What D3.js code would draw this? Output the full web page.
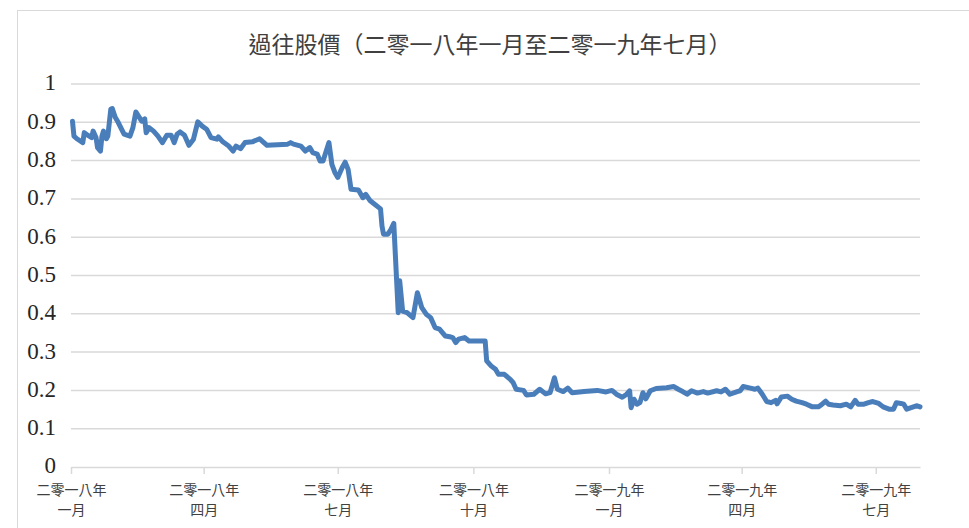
<!DOCTYPE html>
<html lang="zh-Hant">
<head>
  <meta charset="UTF-8">
  <title>過往股價</title>
  <style>
    body { margin: 0; background: #fff; }
    svg { display: block; }
    .grid line { stroke: #d9d9d9; stroke-width: 1.5; }
    .x-axis path, .x-axis line { stroke: #d9d9d9; stroke-width: 1.5; }
    .y-label { font-family: "Liberation Serif", "DejaVu Serif", serif; font-size: 23px; fill: #262626; }
    .x-label { font-family: "Noto Sans CJK TC", sans-serif; font-size: 14px; fill: #404040; }
    .title { font-family: "Noto Sans CJK TC", sans-serif; font-size: 23px; fill: #404040; }
    .price { fill: none; stroke: #4a7ebb; stroke-width: 5; stroke-linejoin: round; stroke-linecap: round; }
  </style>
</head>
<body>
  <svg width="969" height="528"></svg>
  <script src="https://cdn.jsdelivr.net/npm/d3@7/dist/d3.min.js"></script>
  <script>
    var title = '過往股價（二零一八年一月至二零一九年七月）'

    var yTicks = [0, 0.1, 0.2, 0.3, 0.4, 0.5, 0.6, 0.7, 0.8, 0.9, 1]

    var tickDates = ['2018-01-01', '2018-04-01', '2018-07-01', '2018-10-01', '2019-01-01', '2019-04-01', '2019-07-01']
    var tickYears = ['二零一八年', '二零一八年', '二零一八年', '二零一八年', '二零一九年', '二零一九年', '二零一九年']
    var tickMonths = ['一月', '四月', '七月', '十月', '一月', '四月', '七月']

    var dates = [
      '2018-01-02', '2018-01-03', '2018-01-05', '2018-01-09', '2018-01-10', '2018-01-12', '2018-01-15', '2018-01-16', '2018-01-18',
      '2018-01-19', '2018-01-21', '2018-01-22', '2018-01-23', '2018-01-25', '2018-01-26', '2018-01-28', '2018-01-29', '2018-01-31',
      '2018-02-02', '2018-02-06', '2018-02-10', '2018-02-12', '2018-02-14', '2018-02-16', '2018-02-18', '2018-02-20', '2018-02-21',
      '2018-02-23', '2018-02-26',
      '2018-03-01', '2018-03-04', '2018-03-07', '2018-03-10', '2018-03-12', '2018-03-14', '2018-03-16', '2018-03-19', '2018-03-22',
      '2018-03-25', '2018-03-28', '2018-03-31',
      '2018-04-03', '2018-04-06', '2018-04-10', '2018-04-11', '2018-04-14', '2018-04-18', '2018-04-21', '2018-04-23', '2018-04-26',
      '2018-04-29',
      '2018-05-04', '2018-05-09', '2018-05-14', '2018-05-28', '2018-05-30',
      '2018-06-01', '2018-06-06', '2018-06-09', '2018-06-12', '2018-06-14', '2018-06-17', '2018-06-19', '2018-06-21', '2018-06-25',
      '2018-06-27', '2018-06-29',
      '2018-07-01', '2018-07-04', '2018-07-06', '2018-07-08', '2018-07-10', '2018-07-15', '2018-07-18', '2018-07-20', '2018-07-23',
      '2018-07-26', '2018-07-30', '2018-07-31',
      '2018-08-01', '2018-08-04', '2018-08-06', '2018-08-08', '2018-08-11', '2018-08-12', '2018-08-14', '2018-08-17', '2018-08-21',
      '2018-08-24', '2018-08-27', '2018-08-30',
      '2018-09-02', '2018-09-05', '2018-09-08', '2018-09-12', '2018-09-15', '2018-09-17', '2018-09-19', '2018-09-21', '2018-09-25',
      '2018-09-28',
      '2018-10-09', '2018-10-10', '2018-10-13', '2018-10-16', '2018-10-18', '2018-10-22', '2018-10-26', '2018-10-28', '2018-10-30',
      '2018-11-04', '2018-11-06', '2018-11-11', '2018-11-15', '2018-11-19', '2018-11-22', '2018-11-25', '2018-11-27',
      '2018-12-01', '2018-12-04', '2018-12-07', '2018-12-12', '2018-12-15', '2018-12-24', '2018-12-30',
      '2019-01-03', '2019-01-06', '2019-01-10', '2019-01-13', '2019-01-15', '2019-01-16', '2019-01-18', '2019-01-20', '2019-01-22',
      '2019-01-24', '2019-01-26', '2019-01-29',
      '2019-02-02', '2019-02-09', '2019-02-14', '2019-02-17', '2019-02-20', '2019-02-23', '2019-02-26',
      '2019-03-02', '2019-03-06', '2019-03-09', '2019-03-15', '2019-03-18', '2019-03-21', '2019-03-24', '2019-03-29', '2019-03-31',
      '2019-04-02', '2019-04-07', '2019-04-10', '2019-04-12', '2019-04-15', '2019-04-18', '2019-04-21', '2019-04-24', '2019-04-25',
      '2019-04-28',
      '2019-05-02', '2019-05-05', '2019-05-08', '2019-05-12', '2019-05-15', '2019-05-19', '2019-05-23', '2019-05-25', '2019-05-28',
      '2019-05-30',
      '2019-06-02', '2019-06-07', '2019-06-11', '2019-06-14', '2019-06-17', '2019-06-19', '2019-06-23', '2019-06-26', '2019-06-29',
      '2019-07-03', '2019-07-06', '2019-07-10', '2019-07-13', '2019-07-15', '2019-07-18', '2019-07-20', '2019-07-22', '2019-07-25',
      '2019-07-29', '2019-07-31'
    ]

    var prices = [
      0.903, 0.864, 0.857, 0.847, 0.873, 0.867, 0.860, 0.877, 0.860,
      0.834, 0.825, 0.864, 0.877, 0.857, 0.864, 0.934, 0.936, 0.913,
      0.900, 0.869, 0.864, 0.886, 0.927, 0.915, 0.903, 0.909, 0.873,
      0.886, 0.877,
      0.864, 0.847, 0.866, 0.866, 0.847, 0.869, 0.875, 0.866, 0.840,
      0.855, 0.901, 0.890,
      0.882, 0.860, 0.856, 0.862, 0.849, 0.838, 0.825, 0.838, 0.831,
      0.847,
      0.849, 0.857, 0.840, 0.843, 0.847,
      0.843, 0.838, 0.825, 0.834, 0.821, 0.817, 0.799, 0.799, 0.847,
      0.790, 0.769,
      0.756, 0.782, 0.796, 0.777, 0.725, 0.723, 0.703, 0.712, 0.695,
      0.686, 0.674, 0.629,
      0.608, 0.608, 0.620, 0.636, 0.403, 0.486, 0.407, 0.403, 0.390,
      0.455, 0.416, 0.399,
      0.390, 0.364, 0.360, 0.342, 0.340, 0.338, 0.325, 0.334, 0.338,
      0.329,
      0.329, 0.277, 0.264, 0.255, 0.242, 0.242, 0.229, 0.220, 0.203,
      0.200, 0.188, 0.190, 0.203, 0.191, 0.194, 0.233, 0.203,
      0.197, 0.206, 0.194, 0.196, 0.197, 0.200, 0.196,
      0.200, 0.190, 0.182, 0.190, 0.199, 0.155, 0.177, 0.164, 0.168,
      0.194, 0.178, 0.199,
      0.205, 0.207, 0.210, 0.203, 0.197, 0.190, 0.199,
      0.193, 0.197, 0.193, 0.199, 0.196, 0.203, 0.190, 0.197, 0.199,
      0.210, 0.206, 0.203, 0.206, 0.190, 0.171, 0.168, 0.174, 0.165,
      0.183,
      0.185, 0.177, 0.172, 0.168, 0.164, 0.157, 0.157, 0.162, 0.172,
      0.164,
      0.162, 0.160, 0.164, 0.157, 0.174, 0.164, 0.164, 0.168, 0.171,
      0.166, 0.157, 0.151, 0.151, 0.168, 0.166, 0.164, 0.151, 0.155,
      0.160, 0.157
    ]

    var svg = d3.select('svg')
    var margin = { top: 84, left: 71, right: 49, bottom: 61 }
    var width = +svg.attr('width') - margin.left - margin.right
    var height = +svg.attr('height') - margin.top - margin.bottom

    var parse = d3.timeParse('%Y-%m-%d')
    var data = dates.map(function(d, i) {
      return { date: parse(d), value: prices[i] }
    })

    // chart frame, cut off on the right and bottom like the source
    svg.append('rect')
      .attr('x', 17.5)
      .attr('y', 10.5)
      .attr('width', 1000)
      .attr('height', 600)
      .attr('fill', 'none')
      .attr('stroke', '#d9d9d9')

    svg.append('text')
      .attr('class', 'title')
      .attr('x', 490)
      .attr('y', 53)
      .attr('text-anchor', 'middle')
      .text(title)

    var xScale = d3.scaleTime()
      .domain([parse('2018-01-01'), parse('2019-07-31')])
      .range([0, width])
    var yScale = d3.scaleLinear().domain([0, 1]).range([height, 0])

    var g = svg.append('g')
      .attr('transform', 'translate(' + margin.left + ',' + margin.top + ')')

    g.append('g')
      .attr('class', 'grid')
      .selectAll('line')
      .data(yTicks.filter(function(d) { return d > 0 }))
      .enter()
      .append('line')
      .attr('x1', 0)
      .attr('x2', width)
      .attr('y1', function(d) { return yScale(d) })
      .attr('y2', function(d) { return yScale(d) })

    g.selectAll('.y-label')
      .data(yTicks)
      .enter()
      .append('text')
      .attr('class', 'y-label')
      .attr('x', -15)
      .attr('y', function(d) { return yScale(d) })
      .attr('dy', '0.28em')
      .attr('text-anchor', 'end')
      .text(function(d) { return d3.format('')(+d.toFixed(1)) })

    var xAxis = g.append('g')
      .attr('class', 'x-axis')
      .attr('transform', 'translate(0,' + height + ')')
      .call(d3.axisBottom(xScale)
        .tickValues(tickDates.map(parse))
        .tickSizeInner(7)
        .tickSizeOuter(0)
        .tickFormat(''))

    xAxis.selectAll('.tick text').remove()
    xAxis.selectAll('.tick').each(function(d, i) {
      var t = d3.select(this).append('text')
        .attr('class', 'x-label')
        .attr('text-anchor', 'middle')
        .attr('fill', null)
      t.append('tspan').attr('x', 0).attr('y', 28).text(tickYears[i])
      t.append('tspan').attr('x', 0).attr('y', 48).text(tickMonths[i])
    })

    var line = d3.line()
      .x(function(d) { return xScale(d.date) })
      .y(function(d) { return yScale(d.value) })

    g.append('path')
      .datum(data)
      .attr('class', 'price')
      .attr('d', line)
  </script>
</body>
</html>
